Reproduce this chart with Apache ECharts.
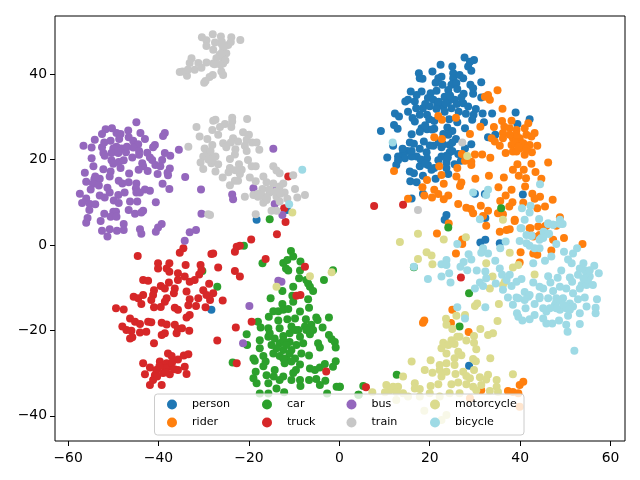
<!DOCTYPE html>
<html><head><meta charset="utf-8">
<style>html,body{margin:0;padding:0;background:#fff}#c{width:640px;height:480px}</style>
<script src="https://cdn.jsdelivr.net/npm/echarts@6/dist/echarts.min.js"></script>
</head><body><div id="c"></div>
<script>
const xTicks=[-60,-40,-20,0,20,40,60];
const yTicks=[-40,-20,0,20,40];
const names=['person','rider','car','truck','bus','train','motorcycle','bicycle'];
const colors=['#1f77b4','#ff7f0e','#2ca02c','#d62728','#9467bd','#c7c7c7','#dbdb8d','#9edae5'];
const person=[[27.7,43.9],[29.8,43.3],[28.9,42.9],[28.5,41.8],[22.4,42.2],[25,41.8],[20.6,40.6],[29.2,40.8],[17.6,40.2],[17.8,39],[18.4,38.9],[25.2,40.2],[25.2,39],[22.6,39.4],[21.9,39],[26.6,39.8],[27.4,39],[21.3,38],[22.8,37.5],[24.8,37.5],[25.9,37.9],[29,37.5],[31.4,38.1],[29.6,36.7],[15.8,35.9],[18.2,35.9],[21.5,36.1],[20.2,35.5],[24.1,36.3],[26.1,36.5],[17.1,35.1],[27.5,35.4],[29.6,35.4],[31.4,34.5],[15.2,34],[16.7,33.6],[19.6,34.4],[20.8,34],[23.3,34.7],[24.1,33.6],[25.5,34],[27.4,33.2],[14.6,33.6],[21.7,32.8],[23,32.4],[24.8,32],[28.5,32.4],[30.2,31.8],[18.5,32],[17.8,30.5],[15.2,31.2],[12.3,30.8],[13.2,30.1],[26.4,31.2],[23.3,31.2],[21.5,31.8],[31.7,30.8],[33.8,30.8],[39,31],[28,30.7],[29.7,30.5],[19.4,30.5],[19.9,29.4],[16.2,29.7],[16.7,28.9],[24.3,29.4],[29.4,29.3],[26.1,28.7],[42.1,29.4],[39.4,28.3],[32,28.7],[12.1,28.1],[12.9,27.2],[9.2,26.7],[23.9,27.5],[21,27.2],[18.2,27.3],[19.4,27.1],[25,26.7],[27.8,27.3],[17.8,26.5],[16,25.9],[24.1,25.8],[32.9,25.2],[34.5,25.8],[18.7,24.2],[15.6,24],[16.5,23.7],[25.8,24.8],[20.8,23.2],[20,23.3],[24.4,23.4],[29.2,23.6],[22.6,22.9],[17.8,22.5],[11.9,23.2],[27.8,22.6],[15,22],[14.1,21.5],[19.3,21.7],[24.4,21.7],[23.7,20.9],[26.3,21.3],[10.6,20.5],[13,20.7],[14.5,20.3],[17.1,20.7],[22.6,20.7],[19.4,20.3],[12.6,18.7],[13,19.8],[16,20.7],[21.9,19.8],[23.7,19.3],[25.5,18.9],[26.9,19.7],[17.8,18.4],[19.6,18.7],[20.4,17.6],[23.7,18],[15.6,17.2],[16.5,16.8],[18.5,16.2],[24.1,16.6],[21.3,15.5],[15.7,14.9],[17.1,14.7],[18.5,12],[16,10.9],[30,12],[32.2,11.9],[40.6,11.8],[32.3,6.3],[23.7,7],[23.3,5.9],[31.2,0.6],[32.3,1.2],[35.5,0.4],[28.7,-28.3],[-18.3,5.9],[-11.6,8.2],[-28.3,-15.2],[19,33],[20,32.5],[22,33.5],[23.5,33.2],[26,33],[27,34.5],[24.5,35],[17,32],[19,28],[20.5,27],[22,24],[23,23.5],[25,24],[14,22.5],[16,22],[18,20],[19,19],[21,18],[24,20.5],[25,22],[23,26],[21,29]];
const rider=[[35,36.2],[32.9,35.1],[32.2,34.7],[33.3,34],[36.1,31.9],[21.9,30.2],[22.7,29.3],[25.8,29.8],[36,29],[38.1,29.1],[41.8,28.5],[34.2,27.6],[31.2,27.7],[36.5,27.7],[37.7,27.3],[41,27.3],[39.2,26.9],[43.2,26.2],[36.2,26.2],[21,25.2],[22.7,24.8],[28.9,26],[33.7,25],[36.2,25],[38.4,25],[39.9,25],[42.5,25.4],[34.4,24.2],[35.5,23.2],[38.1,23.4],[40.3,23.8],[42.1,23.4],[43.8,23.2],[36.8,21.5],[38.4,21.9],[39.9,22.6],[41,21.1],[42.6,21.7],[27.1,21.3],[30,21.2],[31.6,21.2],[33.4,20.4],[27.8,19.7],[29.2,19.5],[29.2,18.7],[22.1,18.4],[26.1,18],[12.1,17.3],[39.4,18.9],[42.5,19],[46.2,19.3],[38.4,17.6],[40.8,17.6],[43.4,17.1],[22.6,16.4],[33.1,16.2],[25.9,16],[39.7,16.2],[41.3,15.6],[44.7,15.5],[19.4,15.2],[30.1,15.5],[36.4,15.8],[23.1,14.3],[27,14.6],[26.7,13.8],[35.2,13.5],[41.1,13.7],[18.4,13.5],[38.1,12.9],[21,12.9],[21.9,11.9],[24.1,11.6],[18.8,11.6],[20.5,11.1],[23.1,10.7],[15.2,10.8],[36.8,11.6],[42.7,12],[44.4,11.3],[47.2,10.6],[26.3,9.6],[31.3,9.2],[35.6,10.3],[38.3,10],[40.7,9.9],[43.2,10.8],[45.5,9],[37.6,9],[35.1,7.4],[28.1,8.7],[29.1,8.4],[29.6,7.4],[32.9,8],[31.8,6.8],[36.2,7.2],[38.8,5.9],[43.8,8.6],[48.8,6.5],[32.5,4.5],[24.2,5],[35.5,3.1],[37,3.5],[37.7,3.7],[42.3,3.9],[44,4.3],[45.8,4.5],[48,4.5],[49.7,1.6],[21.6,2.7],[27.2,1.3],[47.3,1.2],[39.2,25.8],[41.4,25.8],[37.7,25.8],[38.8,23.8],[39.2,21.9],[40.7,23.8],[39.6,23],[41.4,22.6],[27.2,0.2],[25.8,-2],[38.8,5.6],[42.1,3.9],[42.9,2],[44.3,2.3],[45.5,4.4],[46.9,-1.3],[42.9,-2],[43.8,-2.3],[40.1,-1.7],[39.9,-4.1],[53.8,0.2],[25,-15.2],[18.8,-17.7],[18.5,-18.2],[24.7,-18.3],[28.6,-20.4],[37.3,-34.2],[38.4,-34.4],[39.9,-32.8],[40.7,-32],[39.6,-34.7],[31.4,-34],[28.9,-35.9],[39.9,-37.9]];
const car=[[-10.7,-1.4],[-10.2,-2.7],[-12.4,-4.2],[-11.5,-3.5],[-8.6,-3.9],[-17,-4.3],[-21.1,-0.2],[-11.8,-5.5],[-11.3,-6],[-8.7,-6],[-8.9,-7.8],[-1.4,-5.9],[-30.3,-6.1],[-3.4,-8.2],[-7.3,-8.2],[-6.9,-9],[-6.5,-9.8],[-10.2,-9.8],[-5.8,-10.8],[-12.6,-10.8],[-27,-9.8],[-10.4,-11.9],[-15.2,-12.5],[-6.9,-12.7],[-10.2,-13.3],[-12.6,-13.8],[-6.7,-14.7],[-14.6,-15.5],[-13.5,-15.5],[-12.4,-15.2],[-11.3,-15],[-8.7,-15.6],[-15.6,-16.8],[-18,-18],[-9.8,-17.2],[-11.5,-17.4],[-13.5,-17.7],[-5.1,-17],[-2.3,-17],[-7.4,-17.4],[-4.8,-17.6],[-17.4,-19.3],[-15.7,-19.5],[-13.2,-19.5],[-10.6,-19.1],[-9.1,-19.9],[-7.6,-19.1],[-6.2,-18.7],[-3.7,-19.3],[-20.5,-20.9],[-15.7,-21.5],[-17.6,-22.3],[-11,-20.7],[-6.5,-20.9],[-12.4,-21.3],[-8.7,-21.5],[-2.3,-21.1],[-1.7,-22.1],[-1,-22.7],[-20.4,-23.4],[-17.6,-24.2],[-15,-23.4],[-13.2,-23],[-11,-22.7],[-8,-23],[-4.7,-23],[-4.3,-24],[-0.8,-24],[-12.4,-24.6],[-10.6,-24.6],[-14.6,-25.4],[-16.8,-26],[-13.2,-26],[-8.4,-25.4],[-6.7,-25.9],[-19,-26.6],[-18.7,-27.1],[-16.3,-27.3],[-11.7,-26.6],[-9.8,-26.6],[-0.8,-27.2],[-23.6,-27.5],[-16.8,-28.4],[-12.1,-27.7],[-8.7,-28],[-6.5,-28.9],[-5.4,-29.3],[-4.3,-28.7],[-3.2,-27.9],[-1.4,-28.5],[-18.5,-29.7],[-14.3,-29.3],[-9.6,-29.3],[-19,-31.2],[-16.1,-30.5],[-14.5,-30.8],[-12.4,-30.8],[-10.2,-30],[-6.7,-31.6],[-5.1,-31.4],[-3.1,-31.8],[-18.3,-32.4],[-15.7,-32.4],[-13.2,-31.6],[-10.6,-31.6],[-8.7,-31.6],[-8.6,-33],[-4.3,-32.8],[-0.6,-33.2],[0.1,-33.2],[-13.9,-33.6],[-17.6,-34.8],[-15.7,-34.8],[-12.2,-34.5],[-2.7,-34.8],[4.2,-35.1],[-15.4,-20.7],[-14.3,-21.9],[-12.4,-22.4],[-11.7,-23.4],[-9.8,-19.9],[-11,-25.4],[-12.4,-26.6],[-10.6,-27.3],[-13.9,-24.2],[-7.3,-19.9],[-5.8,-19.9],[-9.5,-23.4],[-15.4,6],[35.8,8.6],[24.1,4.1],[16.5,-5.2],[28.7,-11.3],[26.6,-19.1],[12.7,-30.4],[5.3,-33],[0.1,-33.2],[4.3,-35.1]];
const truck=[[-44.6,-2.6],[-34.5,-0.8],[-35.3,-1.8],[-28.3,-2.1],[-27.9,-2],[-23.1,-1.6],[-22.7,-0.4],[-22,-0.2],[-19.5,1.3],[-13.8,2.5],[-16.3,-3.3],[-7.6,-5.1],[-40.1,-4.3],[-40.1,-5.5],[-37.6,-4.3],[-38.2,-5.5],[-34,-4.7],[-30.7,-4.7],[-30.5,-5.9],[-26.8,-5.3],[-37.6,-6.3],[-35.7,-6.6],[-23.1,-6.1],[-22,-7.4],[-31,-6.9],[-43.4,-8.2],[-42.3,-8.4],[-35.7,-8.2],[-34.2,-7.4],[-33.1,-8.6],[-32,-8.2],[-37.7,-8.8],[-39.5,-9.6],[-38.6,-10.2],[-41,-10.6],[-36.4,-10.2],[-33.8,-10.9],[-28.8,-9.1],[-30.1,-10.6],[-43.4,-11.7],[-45.5,-12.1],[-44.5,-12.5],[-43.8,-13.8],[-41.2,-11.7],[-41.6,-12.9],[-36.6,-11.3],[-27.9,-11.3],[-29.4,-11.7],[-33.1,-12.7],[-31.2,-12.5],[-28.6,-12.9],[-25.8,-13],[-38.2,-12.5],[-38.6,-13.3],[-41,-14.6],[-39.5,-14.5],[-36.4,-14.7],[-35.7,-15.2],[-33.4,-14.1],[-31.7,-14.3],[-29.6,-14.6],[-49.4,-14.8],[-47.7,-15.1],[-33.1,-16.4],[-33.8,-17],[-9.5,-11.9],[-8.6,-11.7],[-46.3,-17.2],[-45.2,-18],[-44.1,-18.5],[-42.3,-18],[-41.6,-18.1],[-39.3,-18.2],[-38.2,-18.6],[-36.4,-18.7],[-35.7,-19.7],[-34.8,-19.5],[-33.2,-20.1],[-48,-19.1],[-47.1,-19.9],[-46,-20.1],[-44.1,-20.5],[-42.7,-20.3],[-39.3,-21.1],[-38.6,-20.7],[-36,-20.7],[-19.4,-18],[-22.9,-19.3],[-46.3,-21.9],[-45.8,-21.6],[-41,-23],[-27,-22.4],[-37.9,-25.4],[-37.1,-26],[-35.7,-26.8],[-34.4,-25.9],[-33.4,-25.6],[-43.4,-27.7],[-39.7,-27.3],[-38.2,-27.7],[-41.9,-28.7],[-40.5,-29.3],[-37.5,-28.5],[-35.7,-29.3],[-34.2,-28.5],[-33.8,-30.2],[-43,-30.3],[-40.8,-30.5],[-39,-30],[-37.5,-30.3],[-41.2,-31.6],[-41.9,-32.8],[-39.3,-32.8],[-22.7,-27.7],[-2.9,-29.6],[-12.2,8.6],[-11.9,5.4],[-11.3,16],[7.7,9.1],[14.1,9.4],[26.9,-7.6],[5.9,-33.3],[-38.5,-28.8],[-39.8,-28.4],[-37,-27.5],[-40.3,-30.8],[-38.4,-29.8],[-36.5,-29.1]];
const bus=[[-44.9,28.7],[-51.7,27.1],[-50.3,27.3],[-46.7,26.8],[-52.5,26],[-49.3,26.2],[-48.4,26],[-44,26.2],[-38.6,26.2],[-39,25.5],[-54.1,24.6],[-50.6,24.4],[-48.7,24.8],[-46.6,25.2],[-45.6,24.4],[-43,24.8],[-56.6,23.2],[-54.8,22.8],[-52.5,22.9],[-49.3,23],[-48.2,22.6],[-50,22.6],[-44.5,23.6],[-45.6,22.8],[-40.8,23.4],[-41.2,22.9],[-35.5,22.3],[-14.6,22.5],[-52.2,21.5],[-51.9,20.9],[-50.4,21.5],[-48.9,21.5],[-47.2,21.7],[-44.3,22],[-44.3,21.1],[-42.5,21.6],[-38.6,21.5],[-37.4,20.9],[-54.8,20.3],[-50.4,19.8],[-48.8,19.4],[-47.7,19.8],[-45.8,20.5],[-41.9,20.5],[-41.4,19.9],[-39.2,19.9],[-54.4,18.4],[-52.2,17.7],[-48.4,18],[-43.6,19.1],[-43.4,18.4],[-40.7,18.7],[-39.6,18.4],[-37.5,17.9],[-44.4,17.6],[-56.3,16.9],[-50.6,17.2],[-50.8,16],[-46.5,16.7],[-42.4,17.3],[-40.2,16.6],[-38,16.9],[-37.9,16.3],[-34.1,15.9],[-53,15.5],[-56,14.8],[-54.2,15.4],[-54.5,14.3],[-53.2,13.9],[-48.8,15],[-48,14.4],[-46.6,14.7],[-44.9,14.4],[-39.1,14.3],[-51.3,13.4],[-50.8,12.3],[-45,13.3],[-44.9,12.3],[-43,13],[-41.9,12.7],[-37.6,13.1],[-30.6,13],[-19,13.3],[-13.9,13.1],[-57.4,12],[-56,10.9],[-53,11.6],[-51.9,11.1],[-48.9,11.7],[-47.5,12.3],[-44.1,12.3],[-23.7,11.8],[-23.5,10.7],[-56.9,9.8],[-55.2,9.6],[-54,9.5],[-49.9,10.4],[-48.8,9.8],[-46.3,10.2],[-44.7,10.2],[-40.6,10],[-14.3,9.6],[-55.3,8.2],[-46.6,8.2],[-52,7.3],[-50,7.8],[-49.4,7.8],[-50.6,6.6],[-49.3,6.6],[-45.2,7.3],[-43.4,8],[-43.8,7.6],[-30.5,7.3],[-55.7,6.3],[-56,5.2],[-52.8,5.6],[-47.7,4.9],[-50.8,3.7],[-52.5,3.3],[-49.2,3.3],[-47.7,3.5],[-44.1,3.7],[-43.8,2.6],[-39.3,4.9],[-40.1,4.1],[-40.6,3.1],[-31.7,3.5],[-33.1,3],[-51.3,2],[-34.2,1],[-12.6,7],[-19.9,-14.3],[-13.5,-8.4],[-12.8,-8.6],[-21.3,-23],[-49,22],[-47,23],[-50,19],[-52,24],[-54,16],[-55,13]];
const train=[[-28,49.3],[-30.4,48.6],[-26.2,48.8],[-23.9,48.6],[-21.9,48],[-29.4,47.9],[-27.5,47.4],[-26,47.6],[-24.6,46.8],[-29.4,46.6],[-27.9,45.7],[-25.7,46.1],[-25,44.9],[-25.7,43.7],[-27.2,43.7],[-32.7,43.7],[-33.1,42.6],[-31.2,42.6],[-29.4,42.7],[-27.9,42.5],[-25.7,42.5],[-34.7,40.6],[-33.7,39.6],[-32,41],[-29.6,38.4],[-28.7,39.3],[-28,39.8],[-25.7,39.8],[-26.1,40.6],[-27.6,42.3],[-26.5,44.5],[-26,45],[-25.2,43.2],[-26.3,42.2],[-30.5,41.5],[-33.5,41],[-29.9,38],[-35.3,40.5],[-26,47],[-24,47.5],[-25.5,46.5],[-27.9,29.1],[-27.4,29.3],[-23.7,29.8],[-20.4,29.5],[-23.7,28.9],[-31.6,27.6],[-28.1,26.9],[-26.4,27.6],[-25.3,28.3],[-23.9,27.6],[-21.3,26.4],[-20,25.8],[-30.9,25.4],[-29.2,24.8],[-26.8,25.8],[-23.5,25],[-22.4,24.2],[-20.5,24.6],[-19.3,24],[-18.3,24],[-25.7,23.8],[-25,22.9],[-28.1,23.4],[-29.8,22.6],[-23,22.4],[-20.9,23.2],[-17.7,22.3],[-20.5,22],[-33.4,23],[-30.1,20.7],[-28.6,21.5],[-27.4,20.7],[-23.1,21.2],[-24.2,20.1],[-20.2,19.9],[-30.7,19.3],[-28.3,19.1],[-26.8,18.9],[-22.2,18.9],[-19.4,18.4],[-18.5,18.4],[-30.1,17.8],[-24.2,18],[-21.6,17.6],[-27.4,17.2],[-22,16.6],[-25.8,15.8],[-19.8,15.8],[-24.2,14],[-23.1,15],[-22.4,15],[-18.5,14.9],[-16.8,16],[-14.6,18.4],[-13.9,17.4],[-13.2,16.8],[-10.2,16.3],[-16.1,14.7],[-14.6,14.4],[-13.2,13.7],[-12.4,14.4],[-17,13.1],[-20.9,11.3],[-19,11.7],[-18,11.3],[-15.4,12.3],[-13.9,11.3],[-12.1,12.3],[-9.8,13.1],[-9.3,11.1],[-7.6,11.7],[-16.8,9.9],[-16.1,10.5],[-13.2,10.2],[-11.5,10.8],[-18.5,7.2],[-15,8],[-13.9,8],[-29,7.2],[-28.6,7],[-29.5,21],[-29,20],[-28,20],[-28.5,22],[-24,24],[-24.5,17],[-23,17.5],[-17,11.5],[-18,12],[-16,11],[-15.5,13],[-14,12.5],[-13,12],[27.2,24],[17.4,8.2]];
const motorcycle=[[13.4,0.7],[17.4,2.6],[23.1,1.3],[28,1.8],[36.2,5.9],[19.3,-1.7],[20.4,-2.5],[17.4,-3.3],[20.6,-4.5],[37.7,-1.8],[32.5,-4.3],[39.6,-4.7],[38.4,-5.3],[43.2,-6.9],[33.9,-7.4],[36.6,-8.6],[36.2,-9.4],[33.3,-10.2],[30.5,-13.7],[30,-14.3],[35.3,-13.8],[27.8,-16.4],[25.9,-16.6],[23.6,-17.3],[23.7,-18.7],[35,-17.8],[25,-19.7],[31.2,-19.7],[26.6,-21.5],[32.9,-21.1],[34,-20.7],[29.8,-21.3],[26.1,-21.5],[24.8,-22.3],[28.1,-22.4],[29.8,-22.9],[23,-22.9],[24.1,-23.4],[25.5,-23.2],[22.6,-24.2],[30.3,-24.4],[23.7,-25.4],[26.3,-25],[27,-25.8],[25.5,-26.5],[29.6,-26.7],[33.4,-26.5],[16,-27.3],[20.2,-27],[23.7,-27.7],[22.2,-28.1],[25.5,-28.1],[30.2,-27.2],[22.2,-29.3],[18.9,-29.3],[20.6,-29.9],[23.7,-29.7],[27.4,-29.7],[28.1,-30.7],[25.7,-30.2],[29.8,-29.3],[14.1,-30.8],[38.4,-30.3],[31.1,-31],[32.9,-30.4],[32.5,-31.5],[34.8,-31.6],[28.9,-31.2],[22.6,-30.8],[21.9,-32.6],[24.8,-32.6],[26.3,-32.2],[28.1,-32.6],[20.2,-33],[16.7,-32.4],[10.4,-32.8],[11.9,-33.2],[13,-33.2],[11.2,-34],[7.3,-34.5],[29.6,-33.2],[34.8,-33.2],[31.4,-32.8],[16.7,-33.6],[17.8,-33.7],[10.1,-34.5],[12.6,-34.4],[14.1,-34.7],[15.2,-35.5],[20,-34.7],[24.4,-34.7],[26.6,-34.7],[33.3,-34.2],[35.1,-34.4],[17.8,-35.5],[22.2,-35.5],[12.6,-36.3],[18.8,-38.8],[23.7,-39.8],[22.6,-41],[30.3,-34],[-6.5,-7.3],[-1.7,-6.4],[-13.9,-9.8],[28.3,20.8],[-10.4,7.6]];
const bicycle=[[11.8,24],[-8.2,17.6],[-11.1,9.5],[29.6,12.3],[32.9,12.9],[32.5,11.7],[44.4,14.2],[40.4,8.6],[42.3,9.2],[42.1,7.6],[44.2,6.1],[41,5.9],[31.1,6],[46.2,5.1],[47.3,4.7],[48.8,5.9],[49.4,4.9],[40.1,3.9],[45.2,3.1],[46.4,2.6],[41.4,2.3],[42.5,2.1],[44.7,1.6],[47.3,4.7],[46.2,4.9],[48.8,4.9],[40.3,3.9],[42.5,2.2],[46.2,2.6],[44.3,1.2],[45.1,1.6],[26.1,0.2],[48,0.2],[39.9,0.9],[41.4,0.4],[42.1,-0.2],[44.3,-0.8],[43.2,-0.8],[35.6,-0.8],[36.8,0.8],[31.8,-0.8],[31.4,-1.8],[32.9,-2],[28.6,-2.2],[29.2,-3.4],[27.5,-4],[26.8,-5.1],[23.7,-3.5],[22.6,-4.5],[23.7,-4.7],[16.5,-5.1],[28.3,-5.9],[30.4,-6],[32.3,-6.2],[34.5,-3.7],[35.5,-5.5],[36,-7],[37.7,-7],[22.6,-7.4],[24.3,-6.6],[19.6,-8],[24.6,-8.8],[31.1,-8.8],[32.5,-7.8],[31.8,-9.6],[34.6,-9],[37,-8.2],[39.2,-8.6],[40.3,-8],[42.9,-8.8],[44.3,-9.8],[45.1,-10.2],[46.2,-7.3],[46.7,-8.8],[48.3,-7.7],[49.1,-6],[51,-7.6],[51.5,-8.6],[48.8,-9.8],[50.2,-10.2],[47.3,-10.8],[42.9,-4.3],[45.5,-3.7],[46.9,-2.7],[49.7,-1.6],[51.7,-2],[52.6,-0.8],[50.6,-3.4],[51.4,-4.3],[53.2,-5.5],[54,-4.3],[56.4,-4.9],[57.4,-6.6],[54.7,-6.6],[55.4,-7.4],[52.8,-7],[53.6,-9.4],[56.1,-9.4],[53.2,-10.2],[54.7,-9.4],[30,-10.2],[36.2,-10.5],[38.1,-9.6],[37.3,-12.3],[39.2,-12.3],[38.4,-14],[41,-11],[41.8,-12.1],[43.2,-13.8],[44.3,-12.1],[46.2,-12.5],[48,-12.5],[49.5,-12.5],[51.7,-11.3],[52.8,-12.7],[54.3,-12.3],[57,-12.7],[51,-13.7],[47.7,-14],[48.8,-15.2],[50.2,-14.8],[51.7,-14.4],[54.7,-14.4],[56.7,-14.7],[56.7,-16],[53.2,-16],[45.1,-14.8],[45.8,-15.6],[41.2,-14.8],[39.3,-16],[39.6,-16.8],[40.5,-17.7],[42.1,-17.4],[43.2,-16.4],[45.1,-17.2],[48.6,-17.7],[50.6,-16.6],[45.8,-18.4],[47.1,-18.4],[50.2,-18.7],[53.2,-18.5],[50.5,-20.3],[52,-24.8],[32.3,-14.6],[26.1,-14.6],[27.8,-17.2],[54.3,-5.9],[55,-8.2],[55.4,-5.9],[54,-7.8],[48,-13.3],[48.8,-12.9],[49.5,-14],[51,-15.2],[48,-14.8],[46.6,-14.8],[44.3,-12.5],[39.6,-12.5],[41,-12.9],[42.1,-11.7]];
const seriesData=[person,rider,car,truck,bus,train,motorcycle,bicycle];
const legendColumns=[['person','rider'],['car','truck'],['bus','train'],['motorcycle','bicycle']];
const chart=echarts.init(document.getElementById('c'));
const axisFont={fontFamily:'DejaVu Sans',fontSize:13.9,color:'#000'};
const minus=v=>String(v).replace('-','\u2212');
function axis(min,max,ticks,margin){return{
  type:'value',min,max,splitLine:{show:false},
  axisLine:{show:false,onZero:false},
  axisTick:{show:true,length:5,inside:false,customValues:ticks,lineStyle:{color:'#000',width:1}},
  axisLabel:{...axisFont,margin,customValues:ticks,formatter:minus}
};}
const legendLeft=[167,262,346.5,430];
chart.setOption({
  animation:false,
  backgroundColor:'#fff',
  grid:{left:55,right:15,top:16,bottom:39,show:true,borderColor:'#000',borderWidth:1,backgroundColor:'transparent'},
  xAxis:axis(-62.9,63.2,xTicks,10),
  yAxis:axis(-45.9,53.6,yTicks,8),
  graphic:[{type:'rect',z:150,shape:{x:154.5,y:394,width:369.5,height:41,r:3},style:{fill:'rgba(255,255,255,0.8)',stroke:'#ccc',lineWidth:1}}],
  legend:legendColumns.map((c,i)=>({
    data:c,orient:'vertical',left:legendLeft[i],top:399,z:200,
    icon:'circle',itemWidth:10,itemHeight:10,itemGap:7,padding:0,selectedMode:false,
    textStyle:{fontFamily:'DejaVu Sans',fontSize:11.1,color:'#000',padding:[0,0,0,10]}
  })),
  series:names.map((n,i)=>({
    name:n,type:'scatter',data:seriesData[i],symbol:'circle',symbolSize:8,
    itemStyle:{color:colors[i],opacity:1},silent:true,z:2+i*0.01
  }))
});
</script></body></html>
